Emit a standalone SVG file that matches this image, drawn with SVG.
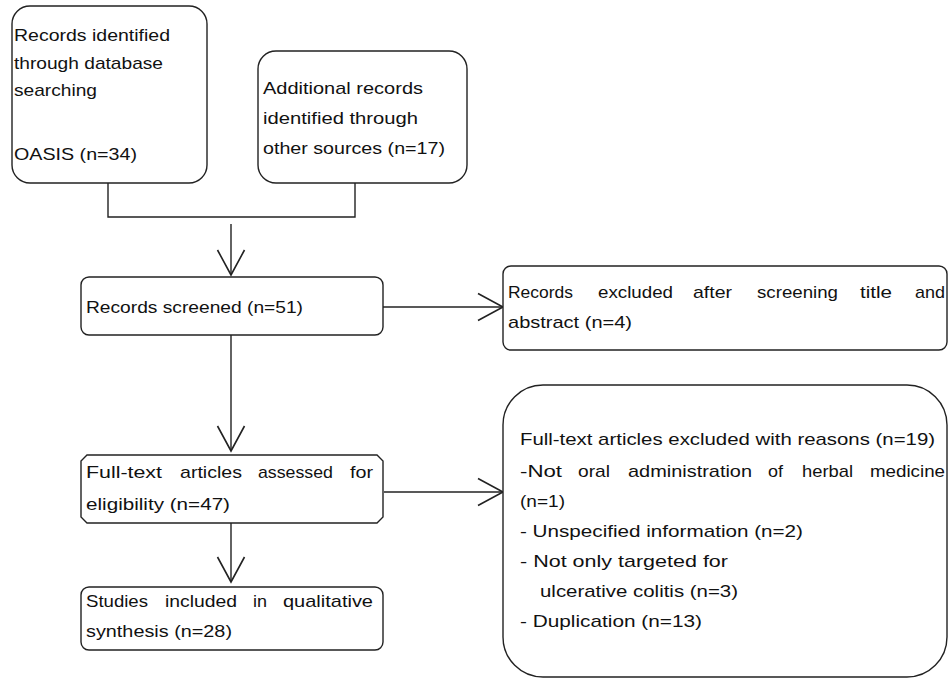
<svg xmlns="http://www.w3.org/2000/svg" width="949" height="679" viewBox="0 0 949 679">
<style>
.box{fill:#fff;stroke:#222;stroke-width:1.4}
.ln{fill:none;stroke:#222;stroke-width:1.4}
text{font-family:"Liberation Sans",Arial,sans-serif;font-size:17px;fill:#111}
</style>
<defs>
<marker id="vee" viewBox="-27 -15 30 30" refX="0" refY="0" markerWidth="30" markerHeight="30" markerUnits="userSpaceOnUse" orient="auto">
<path d="M-25,-13.5 L0,0 L-25,13.5" fill="none" stroke="#222" stroke-width="1.6"/>
</marker>
</defs>
<rect width="949" height="679" fill="#fff"/>
<g id="connectors">
<path class="ln" d="M108,183 V217 H355 V183"/>
<path class="ln" d="M231,224 V275" marker-end="url(#vee)"/>
<path class="ln" d="M383,307 H503" marker-end="url(#vee)"/>
<path class="ln" d="M231,335 V451" marker-end="url(#vee)"/>
<path class="ln" d="M384,492 H503" marker-end="url(#vee)"/>
<path class="ln" d="M231,523 V582" marker-end="url(#vee)"/>
</g>
<g id="n1">
<rect class="box" x="12" y="6" width="195" height="177" rx="18"/>
<text x="14" y="41" textLength="156" lengthAdjust="spacingAndGlyphs">Records identified</text>
<text x="14" y="69" textLength="149" lengthAdjust="spacingAndGlyphs">through database</text>
<text x="14" y="96" textLength="83" lengthAdjust="spacingAndGlyphs">searching</text>
<text x="14" y="160" textLength="123" lengthAdjust="spacingAndGlyphs">OASIS (n=34)</text>
</g>
<g id="n2">
<rect class="box" x="258" y="51" width="209" height="132" rx="18"/>
<text x="263" y="94" textLength="160" lengthAdjust="spacingAndGlyphs">Additional records</text>
<text x="263" y="124" textLength="155" lengthAdjust="spacingAndGlyphs">identified through</text>
<text x="263" y="154" textLength="182" lengthAdjust="spacingAndGlyphs">other sources (n=17)</text>
</g>
<g id="n3">
<rect class="box" x="81" y="277" width="302" height="58" rx="8"/>
<text x="86" y="313" textLength="217" lengthAdjust="spacingAndGlyphs">Records screened (n=51)</text>
</g>
<g id="n4">
<rect class="box" x="503" y="266" width="444" height="84" rx="8"/>
<text x="508" y="298" textLength="65" lengthAdjust="spacingAndGlyphs">Records</text>
<text x="598" y="298" textLength="75" lengthAdjust="spacingAndGlyphs">excluded</text>
<text x="693" y="298" textLength="39" lengthAdjust="spacingAndGlyphs">after</text>
<text x="757" y="298" textLength="81" lengthAdjust="spacingAndGlyphs">screening</text>
<text x="860" y="298" textLength="32" lengthAdjust="spacingAndGlyphs">title</text>
<text x="915" y="298" textLength="30" lengthAdjust="spacingAndGlyphs">and</text>
<text x="508" y="328" textLength="124" lengthAdjust="spacingAndGlyphs">abstract (n=4)</text>
</g>
<g id="n5">
<path class="box" d="M87,455 H377 L383,461 V517 L377,523 H87 L81,517 V461 Z"/>
<text x="86" y="478" textLength="76" lengthAdjust="spacingAndGlyphs">Full-text</text>
<text x="180" y="478" textLength="62" lengthAdjust="spacingAndGlyphs">articles</text>
<text x="258" y="478" textLength="75" lengthAdjust="spacingAndGlyphs">assessed</text>
<text x="350" y="478" textLength="23" lengthAdjust="spacingAndGlyphs">for</text>
<text x="86" y="510" textLength="144" lengthAdjust="spacingAndGlyphs">eligibility (n=47)</text>
</g>
<g id="n6">
<rect class="box" x="81" y="587" width="302" height="63" rx="8"/>
<text x="86" y="607" textLength="62" lengthAdjust="spacingAndGlyphs">Studies</text>
<text x="165" y="607" textLength="72" lengthAdjust="spacingAndGlyphs">included</text>
<text x="253" y="607" textLength="14" lengthAdjust="spacingAndGlyphs">in</text>
<text x="283" y="607" textLength="90" lengthAdjust="spacingAndGlyphs">qualitative</text>
<text x="86" y="637" textLength="146" lengthAdjust="spacingAndGlyphs">synthesis (n=28)</text>
</g>
<g id="n7">
<rect class="box" x="503" y="385" width="444" height="292" rx="40"/>
<text x="520" y="445" textLength="415" lengthAdjust="spacingAndGlyphs">Full-text articles excluded with reasons (n=19)</text>
<text x="520" y="477" textLength="42" lengthAdjust="spacingAndGlyphs">-Not</text>
<text x="578" y="477" textLength="32" lengthAdjust="spacingAndGlyphs">oral</text>
<text x="628" y="477" textLength="124" lengthAdjust="spacingAndGlyphs">administration</text>
<text x="768" y="477" textLength="15" lengthAdjust="spacingAndGlyphs">of</text>
<text x="802" y="477" textLength="51" lengthAdjust="spacingAndGlyphs">herbal</text>
<text x="870" y="477" textLength="75" lengthAdjust="spacingAndGlyphs">medicine</text>
<text x="520" y="507" textLength="45" lengthAdjust="spacingAndGlyphs">(n=1)</text>
<text x="520" y="537" textLength="283" lengthAdjust="spacingAndGlyphs">- Unspecified information (n=2)</text>
<text x="520" y="567" textLength="208" lengthAdjust="spacingAndGlyphs">- Not only targeted for</text>
<text x="540" y="597" textLength="198" lengthAdjust="spacingAndGlyphs">ulcerative colitis (n=3)</text>
<text x="520" y="627" textLength="182" lengthAdjust="spacingAndGlyphs">- Duplication (n=13)</text>
</g>
</svg>
